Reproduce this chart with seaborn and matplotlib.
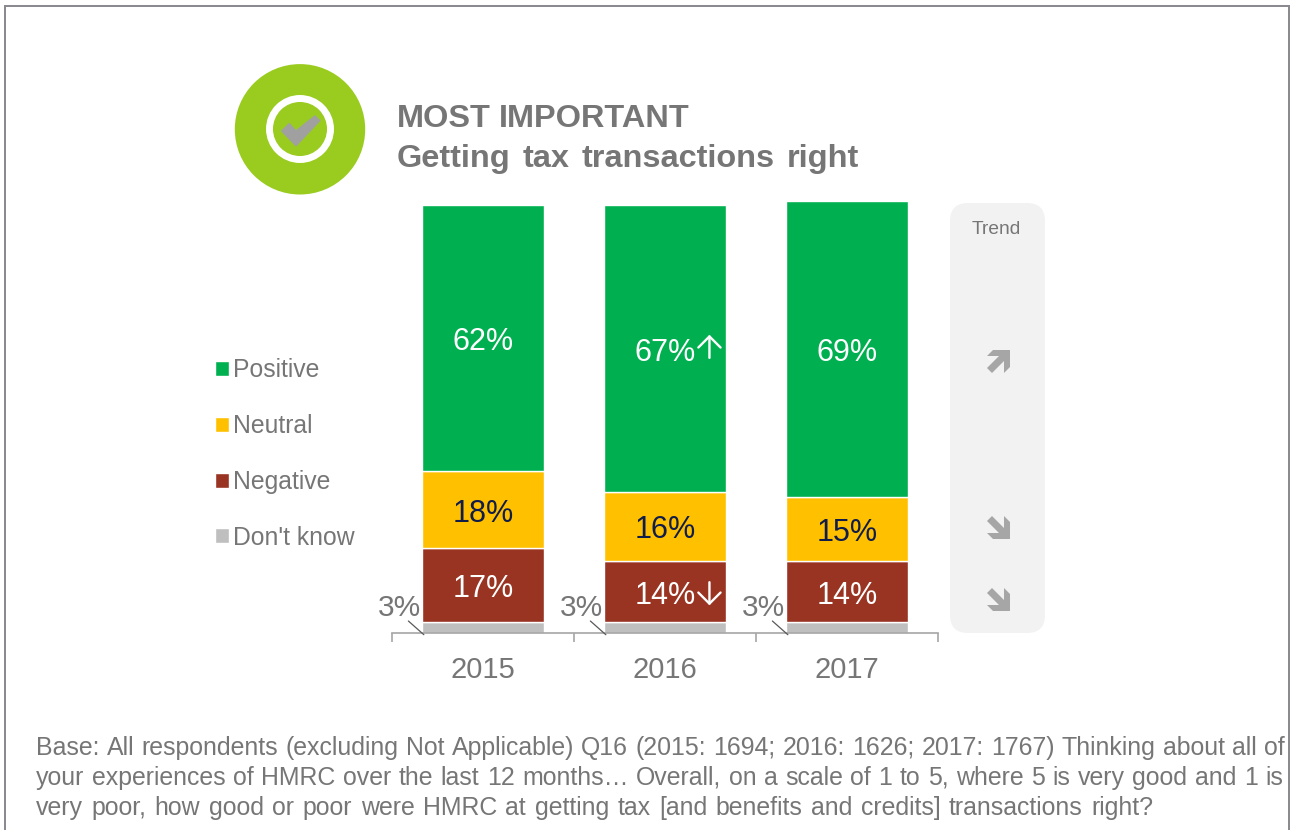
#!/usr/bin/env python3
"""HMRC survey: getting tax transactions right, stacked bars by year"""

import numpy as np
import pandas as pd
import matplotlib
matplotlib.use("Agg")
import matplotlib.pyplot as plt
import matplotlib.transforms as mtransforms
import seaborn as sns
from matplotlib.patches import Circle, FancyBboxPatch, Polygon

# Data (% of respondents)
years = ["2015", "2016", "2017"]
positive = [62.1, 67.0, 69.1]
neutral = [18.0, 16.1, 15.0]
negative = [17.3, 14.3, 14.2]
dont_know = [2.6, 2.6, 2.6]
# significant change markers: 1 up, -1 down, 0 none
sig_positive = [0, 1, 0]
sig_negative = [0, -1, 0]

W, H = 1290, 830
GREY = "#767676"
colors = {"Positive": "#00b050", "Neutral": "#ffc000", "Negative": "#993322", "Don't know": "#bfbfbf"}

sns.set_theme(style="white")
plt.rcParams["font.family"] = ["Liberation Sans", "DejaVu Sans"]

df = pd.DataFrame({"year": years, "Positive": positive, "Neutral": neutral,
                   "Negative": negative, "Don't know": dont_know})

fig = plt.figure(figsize=(W / 100, H / 100), dpi=100, facecolor="white")

# overlay in pixel coordinates for the decoration
bg = fig.add_axes([0, 0, 1, 1], zorder=0)
bg.set_xlim(0, W)
bg.set_ylim(H, 0)
bg.axis("off")

# chart axes: x 392-938 px, baseline 633 px, 4.28 px per percent
YMAX = 102
ax = fig.add_axes([392 / W, 1 - 633 / H, 546 / W, 4.28 * YMAX / H], zorder=1)
ax.patch.set_alpha(0)

# stacked bars, bottom segment first
bottom = np.zeros(len(years))
for name in ["Don't know", "Negative", "Neutral", "Positive"]:
    sns.barplot(data=df, x="year", y=name, color=colors[name], width=0.665, bottom=bottom,
                saturation=1, label=name, ax=ax, legend=False)
    vals = df[name].to_numpy()
    if name != "Don't know":
        txt_col = "#101c4a" if name == "Neutral" else "white"
        for i, v in enumerate(vals):
            ax.text(i, bottom[i] + v / 2 - 1.0, f"{v:.0f}%", color=txt_col, fontsize=22,
                    ha="center", va="center")
    else:
        for i, v in enumerate(vals):
            ax.text(i - 0.46, 5.9, f"{v:.0f}%", color=GREY, fontsize=21.5, ha="center", va="center")
            ax.annotate("", xy=(i - 0.325, -0.4), xytext=(i - 0.41, 2.8), annotation_clip=False,
                        arrowprops=dict(arrowstyle="-", color="#595959", lw=0.9, shrinkA=0, shrinkB=0))
    bottom = bottom + vals


def sig_arrow(i, y, direction, dy_pt):
    # arrow drawn just to the right of the value label
    tr = mtransforms.offset_copy(ax.transData, fig, x=32, y=dy_pt, units="points")
    ax.annotate("", xy=(i, y + direction * 2.7), xytext=(i, y - direction * 2.7),
                xycoords=tr, textcoords=tr, annotation_clip=False,
                arrowprops=dict(arrowstyle="->,head_length=0.4,head_width=0.4", color="white", lw=1.7,
                                mutation_scale=20, shrinkA=0, shrinkB=0))


for i, d in enumerate(sig_positive):
    if d:
        sig_arrow(i, dont_know[i] + negative[i] + neutral[i] + positive[i] / 2, d, 1.5)
for i, d in enumerate(sig_negative):
    if d:
        sig_arrow(i, dont_know[i] + negative[i] / 2, d, -1.8)

ax.set_xlim(-0.5, 2.5)
ax.set_ylim(0, YMAX)
ax.set_yticks([])
ax.set_xlabel("")
ax.set_ylabel("")
sns.despine(ax=ax, left=True)
ax.spines["bottom"].set_color("#a6a6a6")
ax.spines["bottom"].set_linewidth(1.2)
ax.set_xticks([-0.5, 0.5, 1.5, 2.5], labels=[""] * 4)
ax.set_xticks([0, 1, 2], labels=years, minor=True)
ax.tick_params(axis="x", which="major", length=6.5, width=1.2, color="#a6a6a6", bottom=True)
ax.tick_params(axis="x", which="minor", length=0, labelsize=21, labelcolor=GREY, pad=16.5)

# legend
handles, labels = ax.get_legend_handles_labels()
ax.legend(handles[::-1], labels[::-1], loc="upper left", bbox_to_anchor=(215 / W, 1 - 358 / H),
          bbox_transform=fig.transFigure, frameon=False, fontsize=17.8, labelcolor=GREY,
          handlelength=0.56, handleheight=0.56, handletextpad=0.17, labelspacing=1.29, borderpad=0,
          borderaxespad=0)

# outer frame
bg.plot([5, 5, 1289, 1289], [830, 6, 6, 830], color="#8a8a90", lw=1.44, solid_joinstyle="miter")

# badge
bg.add_patch(Circle((300, 129.3), 65.2, color="#99cc1f", lw=0))
bg.add_patch(Circle((300, 129), 30.5, fill=False, ec="white", lw=5))
bg.add_patch(Polygon([(280.7, 131), (289.3, 122.7), (296, 130), (315, 115), (320.7, 120.7), (296, 146.7)],
                     closed=True, color="#a0a0a0", lw=0))


def justified(x0, x1, y, line, **kw):
    # place words one by one so the line runs from x0 to x1 px, y is the baseline
    renderer = fig.canvas.get_renderer()
    words = line.split(" ")
    items = [bg.text(x0, y, w, va="baseline", ha="left", **kw) for w in words]
    widths = [t.get_window_extent(renderer).width for t in items]
    gap = (x1 - x0 - sum(widths)) / (len(words) - 1)
    x = x0
    for t, w in zip(items, widths):
        t.set_x(x)
        x += w + gap


# heading
justified(397, 690, 127, "MOST IMPORTANT", color=GREY, fontsize=23.4, fontweight="bold")
justified(397, 859, 167, "Getting tax transactions right", color=GREY, fontsize=23.4, fontweight="bold")

# trend panel
bg.add_patch(FancyBboxPatch((968, 221), 59, 394, boxstyle="round,pad=18,rounding_size=18",
                            fc="#f2f2f2", ec="none"))
bg.text(996, 229, "Trend", color=GREY, fontsize=13.8, ha="center", va="center")
arrow_dn = np.array([(0, 5), (12, 17), (0, 17), (6, 23), (23, 23), (23, 6), (17, 0), (17, 12), (5, 0)], float)
for top, flip in [(350, True), (516, False), (588, False)]:
    pts = arrow_dn.copy()
    if flip:
        pts[:, 1] = 23 - pts[:, 1]
    pts += (987, top)
    bg.add_patch(Polygon(pts, closed=True, color="#a6a6a6", lw=0))

# footer
footer = ["Base: All respondents (excluding Not Applicable) Q16 (2015: 1694; 2016: 1626; 2017: 1767) Thinking about all of",
          "your experiences of HMRC over the last 12 months… Overall, on a scale of 1 to 5, where 5 is very good and 1 is",
          "very poor, how good or poor were HMRC at getting tax [and benefits and credits] transactions right?"]
for line, y, x1 in zip(footer, [754.5, 784.5, 814.5], [1285, 1283, 1153]):
    justified(36, x1, y, line, color=GREY, fontsize=17.9)

fig.savefig("out.png", dpi=100, facecolor="white")
